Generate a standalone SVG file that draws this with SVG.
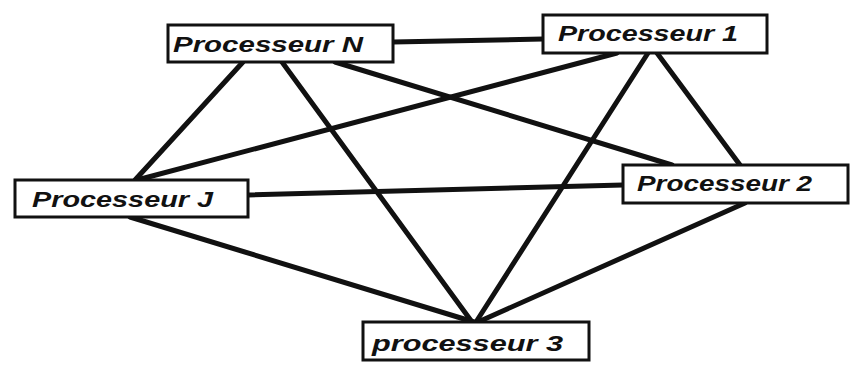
<svg xmlns="http://www.w3.org/2000/svg" width="862" height="373" viewBox="0 0 862 373">
<style>
.box{fill:#fff;stroke:#111;stroke-width:3}
.lbl{font-family:"Liberation Sans",Arial,sans-serif;font-size:22px;fill:#111;font-style:italic;font-weight:bold}
.edge{stroke:#111;stroke-width:5;stroke-linecap:round;fill:none}
</style>
<rect width="862" height="373" fill="#fff"/>
<g id="connectors">
<line class="edge" x1="393" y1="42" x2="543" y2="39"/>
<line class="edge" x1="243" y1="62" x2="135" y2="180"/>
<line class="edge" x1="282" y1="62" x2="472" y2="322"/>
<line class="edge" x1="335" y1="62" x2="672" y2="165"/>
<line class="edge" x1="617" y1="53" x2="137" y2="180"/>
<line class="edge" x1="648" y1="53" x2="476" y2="322"/>
<line class="edge" x1="657" y1="53" x2="740" y2="165"/>
<line class="edge" x1="248" y1="195" x2="623" y2="185"/>
<line class="edge" x1="130" y1="217" x2="474" y2="322"/>
<line class="edge" x1="745" y1="203" x2="478" y2="322"/>
</g>
<g id="node-N">
<rect class="box" x="168" y="25" width="225" height="37"/>
<text class="lbl" x="173" y="52" textLength="190" lengthAdjust="spacingAndGlyphs">Processeur N</text>
</g>
<g id="node-1">
<rect class="box" x="543" y="15" width="224" height="38"/>
<text class="lbl" x="558" y="41" textLength="180" lengthAdjust="spacingAndGlyphs">Processeur 1</text>
</g>
<g id="node-J">
<rect class="box" x="15" y="180" width="233" height="37"/>
<text class="lbl" x="32" y="207" textLength="181" lengthAdjust="spacingAndGlyphs">Processeur J</text>
</g>
<g id="node-2">
<rect class="box" x="623" y="165" width="225" height="38"/>
<text class="lbl" x="637" y="191" textLength="175" lengthAdjust="spacingAndGlyphs">Processeur 2</text>
</g>
<g id="node-3">
<rect class="box" x="363" y="322" width="226" height="38"/>
<text class="lbl" x="372" y="351" textLength="191" lengthAdjust="spacingAndGlyphs">processeur 3</text>
</g>
</svg>
